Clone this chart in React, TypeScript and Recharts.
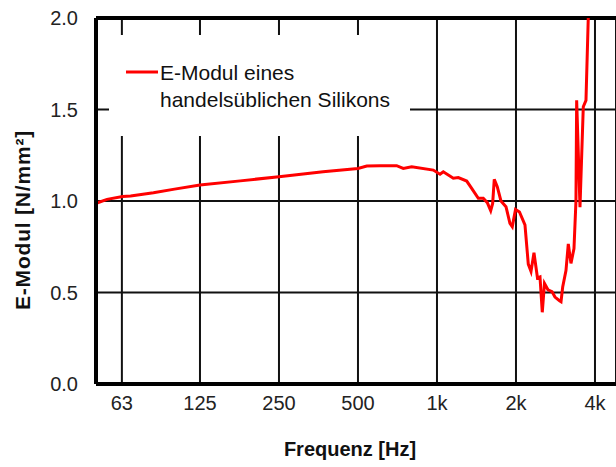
import { CartesianGrid, Label, Legend, Line, LineChart, ReferenceLine, XAxis, YAxis } from "recharts";

// frequency (Hz) and E-Modul (N/mm²)
const freqHz = [
  50.6, 55.3, 63.4, 68, 83.1, 100, 125, 178, 250, 368, 500, 540, 607, 702, 744, 801, 968, 1027, 1057, 1154,
  1206, 1298, 1356, 1437, 1501, 1555, 1602, 1630, 1653, 1697, 1753, 1832, 1897, 1936, 1992, 2062, 2164,
  2228, 2282, 2342, 2415, 2469, 2519, 2568, 2648, 2743, 2816, 2930, 2969, 3013, 3101, 3165, 3240, 3327,
  3385, 3406, 3507, 3610, 3696, 3771,
];
const eModul = [
  0.989, 1.009, 1.024, 1.027, 1.045, 1.065, 1.087, 1.11, 1.133, 1.16, 1.178, 1.191, 1.192, 1.193, 1.178,
  1.187, 1.169, 1.146, 1.16, 1.124, 1.128, 1.109, 1.069, 1.015, 1.015, 0.991, 0.947, 0.987, 1.118, 1.078,
  1.0, 0.969, 0.878, 0.86, 0.954, 0.94, 0.87, 0.655, 0.615, 0.717, 0.58, 0.585, 0.392, 0.55, 0.515, 0.505,
  0.475, 0.455, 0.45, 0.53, 0.62, 0.765, 0.659, 0.74, 1.0, 1.55, 0.966, 1.515, 1.55, 2.0,
];

const xTicks = [63, 125, 250, 500, 1000, 2000, 4000];
const yTicks = [0, 0.5, 1, 1.5, 2];
const legendLines = ["E-Modul eines", "handelsüblichen Silikons"];

const data = freqHz.map((f, i) => ({ f, v: eModul[i] }));

const FONT = "'Liberation Sans', Arial, sans-serif";

const renderLegend = (props: any) => {
  const color = props.payload?.[0]?.color ?? "#ff0000";
  return (
    <div style={{ position: "relative", width: 301, height: 101, background: "#fff", fontFamily: FONT }}>
      <svg style={{ position: "absolute", left: 17, top: 35 }} width={32} height={4}>
        <line x1={0} y1={2} x2={32} y2={2} stroke={color} strokeWidth={3} />
      </svg>
      <div style={{ position: "absolute", left: 51, top: 24, fontSize: 21, lineHeight: "27px", color: "#111", whiteSpace: "nowrap" }}>
        {legendLines[0]}
        <br />
        {legendLines[1]}
      </div>
    </div>
  );
};

export default function App() {
  return (
    <div style={{ position: "absolute", left: 0, top: 0, width: 616, height: 467, background: "#fff", fontFamily: FONT }}>
      <LineChart width={616} height={467} data={data} margin={{ top: 18, right: 0, bottom: 0, left: 0 }}>
        <CartesianGrid stroke="#111" strokeWidth={2} />
        <XAxis
          dataKey="f"
          type="number"
          scale="log"
          domain={[50.2, 4810]}
          allowDataOverflow
          ticks={xTicks}
          tickFormatter={(f: number) => (f >= 1000 ? `${f / 1000}k` : `${f}`)}
          height={83}
          tickSize={0}
          tickMargin={12}
          tick={{ fill: "#222", fontSize: 20, fontFamily: FONT }}
          axisLine={{ stroke: "#000", strokeWidth: 4 }}
        >
          <Label
            content={() => (
              <text x={350} y={456} textAnchor="middle" fontFamily={FONT} fontSize={20} fontWeight="bold" fill="#111">
                Frequenz [Hz]
              </text>
            )}
          />
        </XAxis>
        <YAxis
          type="number"
          domain={[0, 2]}
          ticks={yTicks}
          tickFormatter={(v: number) => v.toFixed(1)}
          width={96}
          tickSize={0}
          tickMargin={18}
          tick={{ fill: "#222", fontSize: 20, fontFamily: FONT }}
          axisLine={{ stroke: "#000", strokeWidth: 4 }}
        >
          <Label
            content={() => (
              <text
                x={22}
                y={220}
                transform="rotate(-90, 22, 220)"
                textAnchor="middle"
                dominantBaseline="central"
                fontFamily={FONT}
                fontSize={21}
                fontWeight="bold"
                letterSpacing={0.8}
                fill="#111"
              >
                E-Modul [N/mm²]
              </text>
            )}
          />
        </YAxis>
        <ReferenceLine y={2} stroke="#000" strokeWidth={4} />
        <Legend
          layout="vertical"
          align="center"
          verticalAlign="middle"
          content={renderLegend}
          wrapperStyle={{ left: 109, top: 35, width: 301, height: 101, margin: 0 }}
        />
        <Line
          type="linear"
          dataKey="v"
          name={legendLines.join(" ")}
          stroke="#ff0000"
          strokeWidth={3}
          dot={false}
          isAnimationActive={false}
        />
      </LineChart>
    </div>
  );
}
